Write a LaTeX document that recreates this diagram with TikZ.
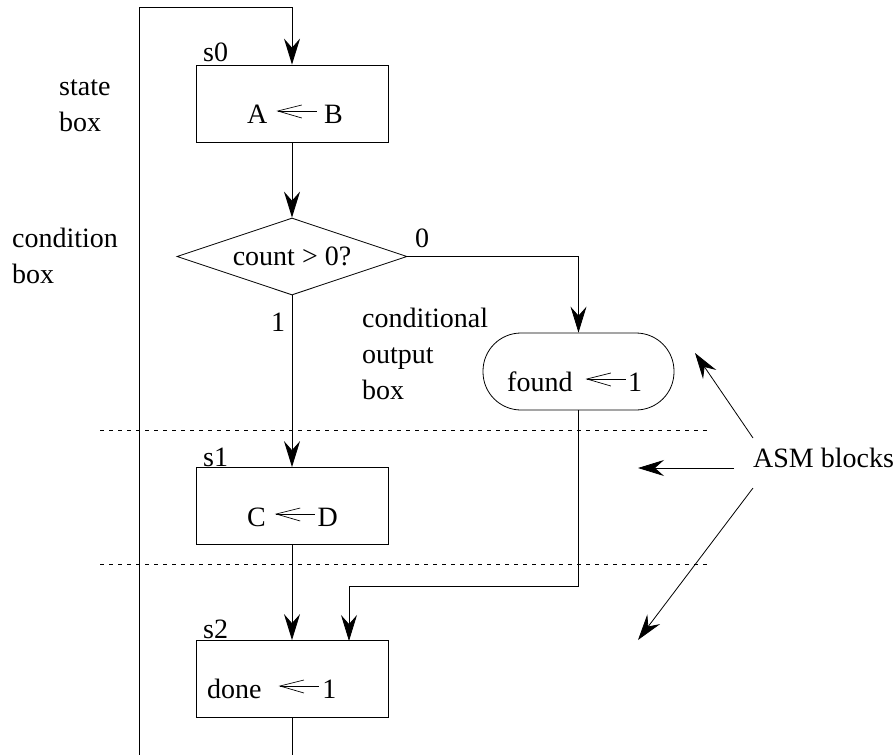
\documentclass[tikz,border=0pt]{standalone}
\usepackage{fontspec}
\setmainfont{Liberation Serif}
\usetikzlibrary{arrows.meta,shapes.geometric,calc}

% register-transfer arrow used inside the boxes
\newcommand\asg{\tikz[baseline=0pt,x=1pt,y=1pt]{%
  \draw[line width=0.7pt] (24,18) -- (0,12) -- (24,5);
  \draw[line width=0.7pt] (0,12) -- (39,12);}}
% stacked label lines, baseline on the first line
\newcommand\lines[1]{\begin{tabular}[t]{@{}l@{}}#1\end{tabular}}

\begin{document}
\begin{tikzpicture}[x=1pt,y=-1pt,
  every node/.style={font=\fontsize{28}{36}\selectfont,inner sep=0pt},
  line/.style={line width=0.8pt},
  arr/.style={line width=0.8pt,-{Stealth[length=26pt,width=16pt,inset=9pt]}},
  statebox/.style={draw,line width=0.8pt,rectangle,minimum width=192pt,minimum height=77pt},
  outbox/.style={draw,line width=0.8pt,rectangle,rounded corners=38pt,minimum width=191pt,minimum height=77pt},
  condbox/.style={draw,line width=0.8pt,diamond,aspect=3,minimum width=230pt,minimum height=77pt},
  sep/.style={line width=0.6pt,dash pattern=on 4pt off 5pt},
  txt/.style={anchor=base west}]
\path[use as bounding box] (0,0) rectangle (895,755);

% boxes
\node[statebox] (s0) at (292,103.5) {};
\node[condbox] (cond) at (292,256.5) {};
\node[outbox] (out) at (578.5,371.5) {};
\node[statebox] (s1) at (292,506) {};
\node[statebox] (s2) at (292,679) {};

% box contents
\node[txt] (t0) at (247,123) {A\hspace{10pt}\asg\hspace{7pt}B};
\node[anchor=base] (tc) at (292,265) {count > 0?};
\node[txt] (to) at (507,391) {found\hspace{14pt}\asg\hspace{2pt}1};
\node[txt] (t1) at (247,526) {C\hspace{10pt}\asg\hspace{2pt}D};
\node[txt] (t2) at (207,698) {done\hspace{18pt}\asg\hspace{3pt}1};

% state names
\node[txt] (n0) at (203,61) {s0};
\node[txt] (n1) at (203,466) {s1};
\node[txt] (n2) at (203,638) {s2};

% branch values
\node[txt] (v0) at (415,247) {0};
\node[txt] (v1) at (271,331) {1};

% annotations
\node[txt] (lstate) at (59,95) {\lines{state\\box}};
\node[txt] (lcond) at (12,247) {\lines{condition\\box}};
\node[txt] (lout) at (362,327) {\lines{conditional\\output\\box}};
\node[txt] (asm) at (753,467) {ASM blocks};

% block separators
\coordinate (dl1) at (100,430); \coordinate (dr1) at (710,430);
\coordinate (dl2) at (100,564); \coordinate (dr2) at (710,564);
\draw[sep] (dl1) -- (dr1);
\draw[sep] (dl2) -- (dr2);

% flow
\coordinate (botL) at (139,755);
\coordinate (topR) at (292,7);
\coordinate (botR) at (292,755);
\coordinate (jn) at (349,641);
\draw[arr] (botL) |- (topR) -- (s0.north);
\draw[arr] (s0.south) -- (cond.north);
\draw[arr] (cond.east) -| (out.north);
\draw[arr] (cond.south) -- (s1.north);
\draw[arr] (s1.south) -- (s2.north);
\draw[arr] (out.south) -- ++(0,176) -| (jn);
\draw[line] (s2.south) -- (botR);

% pointers from the ASM blocks label
\coordinate (a1s) at (753,438); \coordinate (a1e) at (695,353);
\coordinate (a2s) at (734,468); \coordinate (a2e) at (638,468);
\coordinate (a3s) at (753,488); \coordinate (a3e) at (638,640);
\draw[arr] (a1s) -- (a1e);
\draw[arr] (a2s) -- (a2e);
\draw[arr] (a3s) -- (a3e);
\end{tikzpicture}
\end{document}
